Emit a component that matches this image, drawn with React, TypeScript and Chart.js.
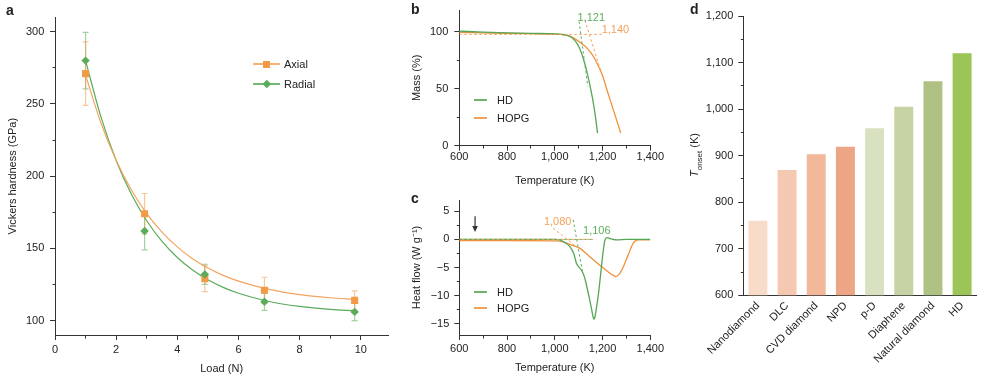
import React, { useEffect, useRef } from 'react';
import { Chart, registerables } from 'chart.js';

Chart.register(...registerables);

const FONT = "'Liberation Sans', Arial, Helvetica, sans-serif";
const AXIS = '#333333';
const TXT = '#222222';

// ---------- Panel a: Vickers hardness ----------
const loadAxial = [1, 2.93, 4.9, 6.85, 9.8];
const hardAxial = [271, 174, 129, 121, 114];
const errAxial = [22, 14, 9, 9, 6.5];
const loadRadial = [1, 2.93, 4.9, 6.85, 9.8];
const hardRadial = [280, 162, 132, 113, 106];
const errRadial = [19.5, 13, 7, 6, 6];
const fitLoad = [1, 1.5, 2, 2.5, 3, 3.5, 4, 4.5, 5, 5.5, 6, 7, 8, 9, 9.8];
const fitAxial = [270, 237, 211, 190.4, 174, 161.2, 151, 142.8, 136.4, 131.3, 127.3, 121.6, 118, 115.8, 114.6];
const fitRadial = [280, 241.2, 210.9, 187.4, 169.1, 154.8, 143.7, 135, 128.2, 123, 118.9, 113.2, 109.8, 107.7, 106.7];

// ---------- Panel b: TGA ----------
const tgaTempHD = [600, 700, 800, 900, 1000, 1030, 1050, 1065, 1078, 1091, 1105, 1120, 1133, 1145, 1161, 1170, 1179];
const tgaMassHD = [100.4, 99.6, 99.0, 98.5, 98.1, 97.6, 96.9, 95.5, 93.5, 90.3, 84.8, 76, 66, 55, 38, 26, 11];
const tgaTempHOPG = [600, 700, 800, 900, 1000, 1040, 1063, 1090, 1119, 1133, 1161, 1180, 1199, 1217, 1238, 1252, 1265, 1276];
const tgaMassHOPG = [99.3, 98.9, 98.5, 98.2, 97.9, 97.2, 96, 93, 88.5, 86, 78.5, 71, 62, 50, 36, 27, 18.5, 11];
const tanTempHD = [1102, 1138];
const tanMassHD = [109, 52];
const tanTempHOPG = [1126, 1195];
const tanMassHOPG = [110, 64];
const baseTempB = [600, 1196];
const baseMassB = [97.6, 97.6];

// ---------- Panel c: DSC ----------
const dscTempHD = [600, 800, 1000, 1021, 1040, 1063, 1080, 1091, 1112, 1125, 1133, 1145, 1154, 1160, 1164, 1168, 1174, 1182, 1190, 1196, 1203, 1210, 1219, 1235, 1260, 1300, 1400];
const dscHD = [0, 0, 0, -0.1, -0.5, -1.3, -2.6, -4.3, -5.5, -6.8, -8.2, -10.5, -12.4, -13.7, -14.2, -13.8, -12.3, -10, -7, -4.6, -2, -0.1, 0.3, 0.1, -0.1, 0, 0];
const dscTempHOPG = [600, 800, 1000, 1021, 1063, 1105, 1147, 1189, 1224, 1245, 1255, 1265, 1280, 1307, 1328, 1349, 1400];
const dscHOPG = [-0.2, -0.2, -0.25, -0.3, -0.9, -1.6, -3.1, -4.6, -5.8, -6.4, -6.6, -6.4, -5.5, -2.8, -0.7, -0.1, -0.1];
const tanTempHDc = [1077, 1117];
const tanHFHDc = [3.5, -6];
const tanTempHOPGc = [993, 1096];
const tanHFHOPGc = [2.0, -1.5];
const baseTempC = [600, 1160];
const baseHFC = [0, 0];

// ---------- Panel d: onset temperatures ----------
const materials = ['Nanodiamond', 'DLC', 'CVD diamond', 'NPD', 'p-D', 'Diaphene', 'Natural diamond', 'HD'];
const onsetT = [760, 869, 903, 919, 959, 1005, 1060, 1120];
const barColors = ['#f8dcc9', '#f5c8b2', '#f1b89a', '#eda685', '#d9e2c0', '#c7d3a4', '#b0c283', '#9bc556'];

// colours
const ORANGE = '#f0913c';
const GREEN = '#55a655';
const ORANGE_A = '#f3a45e';
const GREEN_A = '#5aab5a';
const ORANGE_T = '#f4a25a';
const GREEN_T = '#5fae5f';

const pts = (xs: number[], ys: number[]) => xs.map((x, i) => ({ x, y: ys[i] }));
const isMajor = (v: number, m: number) => Math.abs(v / m - Math.round(v / m)) < 1e-6;
const fmtNum = (v: number) => (v < 0 ? '\u2212' + Math.abs(v).toLocaleString('en-US') : v.toLocaleString('en-US'));

interface AxisOpt {
  min: number; max: number; step: number; major: number; size: number; horizontal: boolean;
  tickPad: number; title?: string; titlePad?: { top: number; bottom: number };
}

function linAxis(o: AxisOpt) {
  return {
    type: 'linear',
    min: o.min,
    max: o.max,
    ticks: {
      stepSize: o.step,
      includeBounds: false,
      autoSkip: false,
      maxRotation: 0,
      minRotation: 0,
      padding: o.tickPad,
      color: TXT,
      font: { family: FONT, size: 11 },
      callback: (v: number) => (isMajor(v, o.major) ? fmtNum(v) : ''),
    },
    grid: {
      drawOnChartArea: false,
      drawTicks: true,
      tickLength: 5,
      color: AXIS,
      lineWidth: 1,
      tickWidth: 1,
      tickBorderDash: (c: any) => (c.tick && isMajor(c.tick.value, o.major) ? [] : o.horizontal ? [2.5, 10] : [2.5, 2.5]),
      tickBorderDashOffset: (c: any) => (c.tick && isMajor(c.tick.value, o.major) ? 0 : o.horizontal ? 0 : 2.5),
    },
    border: { display: true, color: AXIS, width: 1 },
    title: o.title
      ? { display: true, text: o.title, color: TXT, font: { family: FONT, size: 11 }, padding: o.titlePad }
      : { display: false },
    afterFit: (s: any) => {
      if (o.horizontal) s.height = o.size;
      else s.width = o.size;
      s.paddingTop = 0; s.paddingBottom = 0; s.paddingLeft = 0; s.paddingRight = 0;
    },
  };
}

function baseOptions(padding: any, x: any, y: any) {
  return {
    responsive: false,
    maintainAspectRatio: false,
    animation: false,
    devicePixelRatio: 1,
    events: [],
    layout: { padding },
    plugins: { legend: { display: false }, tooltip: { enabled: false }, title: { display: false } },
    scales: { x, y },
  };
}

const curve = (xs: number[], ys: number[], color: string, width: number) => ({
  data: pts(xs, ys), showLine: true, pointRadius: 0, borderColor: color, backgroundColor: color,
  borderWidth: width, cubicInterpolationMode: 'monotone', fill: false,
});
const dashed = (xs: number[], ys: number[], color: string, offset = 0) => ({
  data: pts(xs, ys), showLine: true, pointRadius: 0, borderColor: color, backgroundColor: color,
  borderWidth: 1, borderDash: [2.5, 2.5], borderDashOffset: offset, fill: false,
});

const errorBarPlugin = {
  id: 'errorBars',
  beforeDatasetsDraw(chart: any) {
    const { ctx, scales } = chart;
    const xs = scales.x, ys = scales.y;
    ctx.save();
    chart.data.datasets.forEach((ds: any) => {
      if (!ds.errors) return;
      ctx.strokeStyle = ds.errorColor;
      ctx.lineWidth = 1.2;
      ds.data.forEach((p: any, i: number) => {
        const e = ds.errors[i];
        const px = xs.getPixelForValue(p.x);
        const t = ys.getPixelForValue(p.y + e);
        const b = ys.getPixelForValue(p.y - e);
        ctx.beginPath();
        ctx.moveTo(px, t); ctx.lineTo(px, b);
        ctx.moveTo(px - 3, t); ctx.lineTo(px + 3, t);
        ctx.moveTo(px - 3, b); ctx.lineTo(px + 3, b);
        ctx.stroke();
      });
    });
    ctx.restore();
  },
};

interface Note { text: string; x: number; y: number; color: string }
interface Arrow { x: number; y1: number; y2: number }

function notesPlugin(notes: Note[], arrows: Arrow[]) {
  return {
    id: 'notes',
    afterDatasetsDraw(chart: any) {
      const { ctx, scales } = chart;
      const xs = scales.x, ys = scales.y;
      ctx.save();
      ctx.font = `11px ${FONT}`;
      ctx.textAlign = 'center';
      ctx.textBaseline = 'middle';
      notes.forEach((n) => {
        ctx.fillStyle = n.color;
        ctx.fillText(n.text, xs.getPixelForValue(n.x), ys.getPixelForValue(n.y));
      });
      arrows.forEach((a) => {
        const px = xs.getPixelForValue(a.x);
        const p1 = ys.getPixelForValue(a.y1);
        const p2 = ys.getPixelForValue(a.y2);
        ctx.strokeStyle = '#333';
        ctx.fillStyle = '#333';
        ctx.lineWidth = 1.2;
        ctx.beginPath();
        ctx.moveTo(px, p1); ctx.lineTo(px, p2 - 4);
        ctx.stroke();
        ctx.beginPath();
        ctx.moveTo(px, p2); ctx.lineTo(px - 2.8, p2 - 6); ctx.lineTo(px + 2.8, p2 - 6);
        ctx.closePath();
        ctx.fill();
      });
      ctx.restore();
    },
  };
}

const notesB: Note[] = [
  { text: '1,121', x: 1153, y: 112.3, color: GREEN_T },
  { text: '1,140', x: 1254, y: 101.5, color: ORANGE_T },
];
const notesC: Note[] = [
  { text: '1,080', x: 1012, y: 3.15, color: ORANGE_T },
  { text: '1,106', x: 1176, y: 1.5, color: GREEN_T },
];
const arrowsC: Arrow[] = [{ x: 666, y1: 4.1, y2: 1.3 }];

function configA() {
  return {
    type: 'scatter',
    data: {
      datasets: [
        { label: 'Radial', data: pts(loadRadial, hardRadial), pointStyle: 'rectRot', pointRadius: 4.2,
          backgroundColor: GREEN_A, borderColor: GREEN_A, borderWidth: 0,
          errors: errRadial, errorColor: 'rgba(90,171,90,0.55)' },
        { label: 'Axial', data: pts(loadAxial, hardAxial), pointStyle: 'rect', pointRadius: 5,
          backgroundColor: '#f39a47', borderColor: '#f39a47', borderWidth: 0,
          errors: errAxial, errorColor: 'rgba(243,154,71,0.55)' },
        curve(fitLoad, fitAxial, ORANGE_A, 1.2),
        curve(fitLoad, fitRadial, GREEN_A, 1.2),
      ],
    },
    options: baseOptions(
      { left: 0, top: 17.3, right: 6.7, bottom: 0 },
      linAxis({ min: 0, max: 10.9, step: 1, major: 2, size: 44, horizontal: true, tickPad: 3.4,
        title: 'Load (N)', titlePad: { top: 0, bottom: 3.4 } }),
      linAxis({ min: 90, max: 310, step: 25, major: 50, size: 55, horizontal: false, tickPad: 5.7,
        title: 'Vickers hardness (GPa)', titlePad: { top: 6.4, bottom: 0 } }),
    ),
    plugins: [errorBarPlugin],
  };
}

function configB() {
  return {
    type: 'scatter',
    data: {
      datasets: [
        dashed(tanTempHD, tanMassHD, GREEN_T),
        dashed(tanTempHOPG, tanMassHOPG, ORANGE_T),
        dashed(baseTempB, baseMassB, ORANGE_T),
        curve(tgaTempHD, tgaMassHD, GREEN, 1.3),
        curve(tgaTempHOPG, tgaMassHOPG, ORANGE, 1.3),
      ],
    },
    options: baseOptions(
      { left: 0, top: 10, right: 19.7, bottom: 0 },
      linAxis({ min: 600, max: 1400, step: 100, major: 200, size: 44.3, horizontal: true, tickPad: 0,
        title: 'Temperature (K)', titlePad: { top: 0, bottom: 2.4 } }),
      linAxis({ min: 0, max: 119, step: 25, major: 50, size: 59.3, horizontal: false, tickPad: 6,
        title: 'Mass (%)', titlePad: { top: 10.1, bottom: 0 } }),
    ),
    plugins: [notesPlugin(notesB, [])],
  };
}

function configC() {
  return {
    type: 'scatter',
    data: {
      datasets: [
        dashed(tanTempHDc, tanHFHDc, GREEN_T),
        dashed(tanTempHOPGc, tanHFHOPGc, ORANGE_T),
        dashed(baseTempC, baseHFC, ORANGE_T, 2.5),
        dashed(baseTempC, baseHFC, GREEN_T),
        curve(dscTempHD, dscHD, GREEN, 1.3),
        curve(dscTempHOPG, dscHOPG, ORANGE, 1.3),
      ],
    },
    options: baseOptions(
      { left: 0, top: 10, right: 19.7, bottom: 0 },
      linAxis({ min: 600, max: 1400, step: 100, major: 200, size: 44, horizontal: true, tickPad: 2.4,
        title: 'Temperature (K)', titlePad: { top: 0, bottom: 4.4 } }),
      linAxis({ min: -17, max: 7, step: 2.5, major: 5, size: 59.3, horizontal: false, tickPad: 5,
        title: 'Heat flow (W g\u207B\u00B9)', titlePad: { top: 10.4, bottom: 0 } }),
    ),
    plugins: [notesPlugin(notesC, arrowsC)],
  };
}

function configD() {
  const y = linAxis({ min: 600, max: 1200, step: 50, major: 100, size: 53.3, horizontal: false, tickPad: 5 });
  return {
    type: 'bar',
    data: {
      labels: materials,
      datasets: [{ data: onsetT, backgroundColor: barColors, borderWidth: 0, categoryPercentage: 1, barPercentage: 0.65 }],
    },
    options: baseOptions(
      { left: 0, top: 16, right: 17.3, bottom: 0 },
      {
        type: 'category',
        offset: true,
        grid: { display: false, drawTicks: false, drawOnChartArea: false },
        border: { display: true, color: AXIS, width: 1 },
        ticks: { minRotation: 45, maxRotation: 45, autoSkip: false, padding: 4, color: TXT, font: { family: FONT, size: 11 } },
        afterFit: (s: any) => { s.height = 83.7; s.paddingTop = 0; s.paddingBottom = 0; s.paddingLeft = 0; s.paddingRight = 0; },
      },
      y,
    ),
  };
}

function ChartBox({ left, top, width, height, make }: { left: number; top: number; width: number; height: number; make: () => any }) {
  const ref = useRef<HTMLCanvasElement>(null);
  useEffect(() => {
    const chart = new Chart(ref.current as HTMLCanvasElement, make());
    return () => chart.destroy();
  }, []);
  return (
    <div style={{ position: 'absolute', left, top, width, height }}>
      <canvas ref={ref} width={width} height={height} style={{ width, height, display: 'block' }} />
    </div>
  );
}

const letter = (t: string, left: number, top: number) => (
  <div style={{ position: 'absolute', left, top, fontWeight: 'bold', fontSize: 14, lineHeight: '14px' }}>{t}</div>
);

function LegendRow({ left, top, color, label, marker, lineLen }: { left: number; top: number; color: string; label: string; marker?: 'square' | 'diamond'; lineLen: number }) {
  return (
    <div style={{ position: 'absolute', left, top: top - 7, height: 14, display: 'flex', alignItems: 'center' }}>
      <div style={{ position: 'relative', width: lineLen, height: 14 }}>
        <div style={{ position: 'absolute', left: 0, top: 6, width: lineLen, height: 2, background: color, opacity: 0.85 }} />
        {marker === 'square' && (
          <div style={{ position: 'absolute', left: lineLen / 2 - 3.5, top: 3.5, width: 7, height: 7, background: '#f39a47' }} />
        )}
        {marker === 'diamond' && (
          <div style={{ position: 'absolute', left: lineLen / 2 - 2.8, top: 4.2, width: 5.6, height: 5.6, background: GREEN_A, transform: 'rotate(45deg)' }} />
        )}
      </div>
      <span style={{ marginLeft: lineLen > 20 ? 4 : 10, fontSize: 11, lineHeight: '14px', color: TXT }}>{label}</span>
    </div>
  );
}

export default function App() {
  return (
    <div style={{ position: 'fixed', left: 0, top: 0, width: 994, height: 379, background: '#fff', fontFamily: FONT, color: TXT, overflow: 'hidden' }}>
      <ChartBox left={0} top={0} width={395} height={379} make={configA} />
      <ChartBox left={400} top={0} width={270} height={190} make={configB} />
      <ChartBox left={400} top={190} width={270} height={189} make={configC} />
      <ChartBox left={690} top={0} width={304} height={379} make={configD} />

      {letter('a', 6, 3)}
      {letter('b', 411, 2)}
      {letter('c', 411, 190.5)}
      {letter('d', 690, 2)}

      <LegendRow left={253} top={64} color={ORANGE_A} label="Axial" marker="square" lineLen={27} />
      <LegendRow left={253} top={84} color={GREEN_A} label="Radial" marker="diamond" lineLen={27} />

      <LegendRow left={474} top={100} color={GREEN} label="HD" lineLen={13} />
      <LegendRow left={474} top={118} color={ORANGE} label="HOPG" lineLen={13} />
      <LegendRow left={474} top={292} color={GREEN} label="HD" lineLen={13} />
      <LegendRow left={474} top={308} color={ORANGE} label="HOPG" lineLen={13} />

      <div style={{ position: 'absolute', left: 697, top: 155, width: 0, height: 0 }}>
        <div style={{ position: 'absolute', left: 0, top: 0, transform: 'translate(-50%, -50%) rotate(-90deg)', whiteSpace: 'nowrap', fontSize: 11, lineHeight: '13px' }}>
          <i>T</i><sub style={{ fontSize: 8 }}>onset</sub> (K)
        </div>
      </div>
    </div>
  );
}
